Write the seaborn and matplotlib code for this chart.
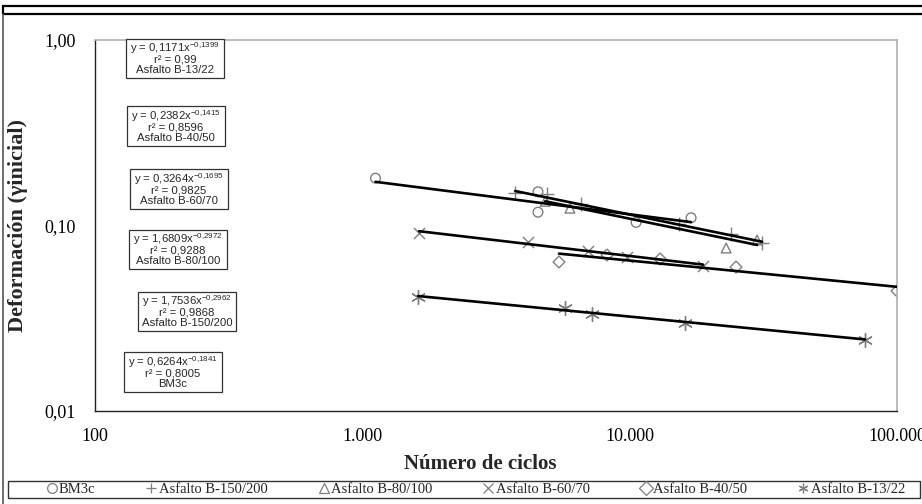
import numpy as np
import pandas as pd
import matplotlib
matplotlib.use("Agg")
import matplotlib.pyplot as plt
import seaborn as sns
from matplotlib.lines import Line2D
from matplotlib.patches import Rectangle
from matplotlib.transforms import Bbox
from matplotlib.ticker import NullLocator

# ---------------- data ----------------
series = ["BM3c", "Asfalto B-150/200", "Asfalto B-80/100",
          "Asfalto B-60/70", "Asfalto B-40/50", "Asfalto B-13/22"]

bm3c_n = [1120, 4540, 4540, 10570, 16970]
bm3c_def = [0.180, 0.152, 0.118, 0.104, 0.110]
b150_n = [3730, 4910, 6580, 15300, 23940, 31290]
b150_def = [0.150, 0.148, 0.131, 0.102, 0.090, 0.0805]
b80_n = [4830, 5980, 22950, 29960]
b80_def = [0.135, 0.124, 0.0756, 0.0835]
b60_n = [1630, 4170, 6990, 9780, 18820]
b60_def = [0.0911, 0.0815, 0.0729, 0.0676, 0.0605]
b40_n = [5440, 8230, 13000, 25000, 100000]
b40_def = [0.0636, 0.0693, 0.0660, 0.0597, 0.0444]
b13_n = [1616, 5730, 7230, 16120, 75970]
b13_def = [0.0412, 0.0359, 0.0333, 0.0298, 0.0241]

coef_a = [0.6264, 1.7536, 1.6809, 0.3264, 0.2382, 0.1171]
coef_a_txt = ["0,6264", "1,7536", "1,6809", "0,3264", "0,2382", "0,1171"]
coef_b = [-0.1841, -0.2962, -0.2972, -0.1695, -0.1415, -0.1399]
coef_b_txt = ["-0,1841", "-0,2962", "-0,2972", "-0,1695", "-0,1415", "-0,1399"]
r2_txt = ["0,8005", "0,9868", "0,9288", "0,9825", "0,8596", "0,99"]

x_ticks = [100, 1000, 10000, 100000]
x_tick_labels = ["100", "1.000", "10.000", "100.000"]
y_ticks = [0.01, 0.1, 1.0]
y_tick_labels = ["0,01", "0,10", "1,00"]

all_n = [bm3c_n, b150_n, b80_n, b60_n, b40_n, b13_n]
all_d = [bm3c_def, b150_def, b80_def, b60_def, b40_def, b13_def]

# ---------------- style ----------------
sns.set_style("white")
plt.rcParams["font.family"] = ["Liberation Serif", "DejaVu Serif"]
plt.rcParams["mathtext.default"] = "regular"

fig = plt.figure(figsize=(9.22, 5.04), dpi=100)
ax = fig.add_axes([95 / 922, 93 / 504, 802 / 922, 371 / 504])

df = pd.concat([pd.DataFrame({"n": n, "d": d, "serie": s})
                for n, d, s in zip(all_n, all_d, series)], ignore_index=True)

markers = {
    "BM3c": "o",
    "Asfalto B-150/200": "+",
    "Asfalto B-80/100": "^",
    "Asfalto B-60/70": "x",
    "Asfalto B-40/50": "D",
    "Asfalto B-13/22": (6, 2, 0),
}
sizes_m = {"BM3c": 7, "Asfalto B-150/200": 10, "Asfalto B-80/100": 7,
           "Asfalto B-60/70": 8, "Asfalto B-40/50": 6, "Asfalto B-13/22": 10}
gray = "#7f7f7f"

for s in series:
    sub = df[df.serie == s]
    m = markers[s]
    if m in ("+", "x") or isinstance(m, tuple):
        kw = dict(color=gray)
    else:
        kw = dict(facecolor="none", edgecolor=gray)
    sns.scatterplot(data=sub, x="n", y="d", ax=ax, marker=m,
                    s=sizes_m[s] ** 2, linewidth=1.0,
                    legend=False, zorder=2, **kw)

# trend lines from the equations, over each series' data range
for n, a, b in zip(all_n, coef_a, coef_b):
    xs = np.logspace(np.log10(min(n)), np.log10(max(n)), 50)
    sns.lineplot(x=xs, y=a * xs ** b, ax=ax, color="black", lw=1.9,
                 zorder=3, legend=False)

ax.set_xscale("log")
ax.set_yscale("log")
ax.set_xlim(100, 100000)
ax.set_ylim(0.01, 1.0)
ax.set_xticks(x_ticks)
ax.set_xticklabels(x_tick_labels, fontsize=13)
ax.set_yticks(y_ticks)
ax.set_yticklabels(y_tick_labels, fontsize=13)
ax.xaxis.set_minor_locator(NullLocator())
ax.yaxis.set_minor_locator(NullLocator())
ax.tick_params(axis="x", direction="inout", length=8, width=0.9, pad=8, colors="#333333", labelcolor="black")
ax.tick_params(axis="y", direction="out", length=6, width=0.9, pad=8, colors="#333333", labelcolor="black")
ax.set_xlabel("Número de ciclos", fontsize=15, fontweight="bold")
ax.set_ylabel("Deformación (γinicial)", fontsize=16, fontweight="bold")
ax.xaxis.set_label_coords(0.48, -0.115)
ax.yaxis.set_label_coords(-0.0835, 0.5)

for side in ("left", "bottom"):
    ax.spines[side].set_color("#222222")
    ax.spines[side].set_linewidth(1.0)
for side in ("top", "right"):
    ax.spines[side].set_color("#b0b0b0")
    ax.spines[side].set_linewidth(1.2)
    ax.spines[side].set_visible(True)

# equation boxes (top to bottom), each as three text lines in a frame
box_order = [5, 4, 3, 2, 1, 0]
box_pos = [(0.0998, 0.949), (0.101, 0.768), (0.1047, 0.598),
           (0.1035, 0.434), (0.1147, 0.267), (0.0973, 0.105)]
pitch = 10.5
box_texts = []
for idx, (bx, by) in zip(box_order, box_pos):
    lines = ["y = " + coef_a_txt[idx] + "x$^{" + coef_b_txt[idx].replace(",", "{,}") + "}$",
             "r² = " + r2_txt[idx],
             series[idx]]
    group = []
    for k, line in enumerate(lines):
        t = ax.annotate(line, xy=(bx, by), xycoords="axes fraction",
                        xytext=(0, pitch * (1 - k) - 4), textcoords="offset pixels",
                        ha="center", va="baseline", fontsize=8.2,
                        family=["Liberation Sans", "DejaVu Sans"], zorder=7)
        group.append(t)
    box_texts.append(group)

fig.canvas.draw()
renderer = fig.canvas.get_renderer()
inv = fig.transFigure.inverted()
for group in box_texts:
    bb = Bbox.union([t.get_window_extent(renderer) for t in group])
    x0, y0 = bb.x0 - 4, bb.y0 - 3
    x1, y1 = bb.x1 + 4, bb.y1 + 2
    (fx0, fy0), (fx1, fy1) = inv.transform([(x0, y0), (x1, y1)])
    ax.add_patch(Rectangle((fx0, fy0), fx1 - fx0, fy1 - fy0,
                           transform=fig.transFigure, fc="white",
                           ec="#333333", lw=0.9, zorder=6, clip_on=False))

# legend
handles = []
for s in series:
    m = markers[s]
    filled = m in ("+", "x") or isinstance(m, tuple)
    handles.append(Line2D([], [], ls="none", marker=m, markersize=7,
                          markerfacecolor=gray if filled else "none",
                          markeredgecolor=gray, markeredgewidth=0.9, color=gray))
leg = fig.legend(handles, series, loc="center",
                 bbox_to_anchor=(475 / 922, 1 - 489 / 504),
                 ncol=6, frameon=False,
                 borderaxespad=0, handletextpad=0.05, handlelength=0.9,
                 columnspacing=3.4,
                 prop={"family": "Liberation Serif", "size": 10.5},
                 borderpad=0.2)
fig.patches.append(Rectangle((8 / 922, 6 / 504), 912 / 922, 17 / 504,
                             transform=fig.transFigure, fill=False,
                             ec="#333333", lw=1.0))

# chart frame
fig.patches.append(Rectangle((3 / 922, (504 - 14) / 504), 0.999, 8 / 504,
                             transform=fig.transFigure, fill=False,
                             ec="black", lw=1.6))
fig.lines.append(Line2D([3 / 922, 3 / 922], [0, (504 - 14) / 504],
                        transform=fig.transFigure, color="#555555", lw=1.2))

fig.savefig("out.png", dpi=100)
